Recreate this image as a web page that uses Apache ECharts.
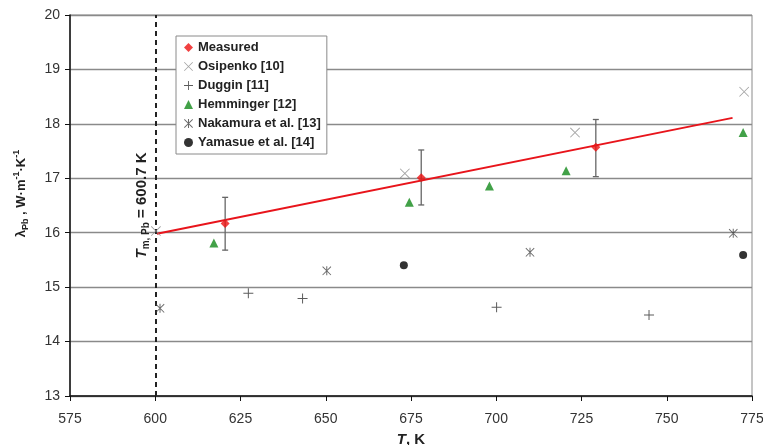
<!DOCTYPE html>
<html>
<head>
<meta charset="utf-8">
<script src="https://cdn.jsdelivr.net/npm/echarts@6/dist/echarts.min.js"></script>
<style>html,body{margin:0;padding:0;background:#fff;}#c{width:763px;height:445px;}</style>
</head>
<body>
<div id="c"></div>
<script>
// ---- data ----
const xTicks = [575, 600, 625, 650, 675, 700, 725, 750, 775];
const yTicks = [13, 14, 15, 16, 17, 18, 19, 20];
const meltT = 600;
const measuredT = [620.5, 678, 729.2];
const measuredL = [16.17, 17.01, 17.57];
const measuredLow = [15.68, 16.51, 17.03];
const measuredHigh = [16.65, 17.52, 18.08];
const fitT = [600.5, 769.3];
const fitL = [15.98, 18.11];
const osipenkoT = [600.2, 673.2, 723.1, 772.7];
const osipenkoL = [16.03, 17.09, 17.84, 18.59];
const dugginT = [627.3, 643.2, 700.1, 744.8];
const dugginL = [14.89, 14.79, 14.63, 14.49];
const hemmingerT = [617.2, 674.5, 698.0, 720.5, 772.4];
const hemmingerL = [15.81, 16.56, 16.86, 17.14, 17.84];
const nakamuraT = [601.4, 650.3, 709.9, 769.5];
const nakamuraL = [14.61, 15.30, 15.64, 15.99];
const yamasueT = [672.9, 772.4];
const yamasueL = [15.40, 15.59];

const zip = (a, b) => a.map((v, i) => [v, b[i]]);

const plusPath = 'path://M-0.6,-6 L0.6,-6 L0.6,-0.6 L6,-0.6 L6,0.6 L0.6,0.6 L0.6,6 L-0.6,6 L-0.6,0.6 L-6,0.6 L-6,-0.6 L-0.6,-0.6 Z';
const crossPath = 'path://M-5,-4.4 L-4.4,-5 L5,4.4 L4.4,5 Z M4.4,-5 L5,-4.4 L-4.4,5 L-5,4.4 Z';
const starPath = 'path://M-5,-4.3 L-4.3,-5 L5,4.3 L4.3,5 Z M4.3,-5 L5,-4.3 L-4.3,5 L-5,4.3 Z M-0.55,-5 L0.55,-5 L0.55,5 L-0.55,5 Z';

const font = 'Liberation Sans, Arial, sans-serif';
const chart = echarts.init(document.getElementById('c'), null, {renderer: 'canvas'});

chart.setOption({
  backgroundColor: '#fff',
  animation: false,
  textStyle: {fontFamily: font},
  grid: {left: 70, right: 11, top: 15, bottom: 49, show: true, borderColor: '#8a8a8a', borderWidth: 1, containLabel: false, outerBoundsMode: 'none'},
  legend: {
    orient: 'vertical', left: 176, top: 36,
    backgroundColor: '#fff', borderColor: '#8a8a8a', borderWidth: 1,
    padding: [4, 6, 4, 8], itemWidth: 9, itemHeight: 9, itemGap: 4,
    textStyle: {fontFamily: font, fontWeight: 'bold', fontSize: 13, color: '#222', lineHeight: 15},
    data: ['Measured', 'Osipenko [10]', 'Duggin [11]', 'Hemminger [12]', 'Nakamura et al. [13]', 'Yamasue et al. [14]']
  },
  xAxis: {
    type: 'value', min: xTicks[0], max: xTicks[xTicks.length - 1], interval: 25,
    name: '{it|T}{n|, K}', nameLocation: 'middle', nameGap: 36,
    nameTextStyle: {rich: {it: {fontFamily: font, fontWeight: 'bold', fontStyle: 'italic', fontSize: 15, color: '#222'}, n: {fontFamily: font, fontWeight: 'bold', fontSize: 15, color: '#222'}}},
    axisLine: {show: true, lineStyle: {color: '#111', width: 1.5}},
    axisTick: {show: true, length: 5, lineStyle: {color: '#111'}},
    axisLabel: {fontSize: 14, color: '#333', margin: 16, fontFamily: font},
    splitLine: {show: false}
  },
  yAxis: {
    type: 'value', min: yTicks[0], max: yTicks[yTicks.length - 1], interval: 1,
    name: '{b|λ}{sub|Pb}{b| , W·m}{sup|-1}{b|·K}{sup|-1}', nameLocation: 'middle', nameGap: 40, nameRotate: 90,
    nameTextStyle: {padding: [0, 0, 0, 24], rich: {
      b: {fontFamily: font, fontWeight: 'bold', fontSize: 13, color: '#222', lineHeight: 18, verticalAlign: 'middle'},
      sub: {fontFamily: font, fontWeight: 'bold', fontSize: 9, color: '#222', lineHeight: 18, verticalAlign: 'bottom'},
      sup: {fontFamily: font, fontWeight: 'bold', fontSize: 9, color: '#222', lineHeight: 18, verticalAlign: 'top'}
    }},
    axisLine: {show: true, lineStyle: {color: '#111', width: 1.5}},
    axisTick: {show: true, length: 5, lineStyle: {color: '#111'}},
    axisLabel: {fontSize: 14, color: '#333', margin: 10, fontFamily: font},
    splitLine: {show: true, lineStyle: {color: '#8a8a8a', width: 1.3}}
  },
  series: [
    {
      name: 'fit', type: 'line', data: zip(fitT, fitL), symbol: 'none',
      lineStyle: {color: '#e8141b', width: 2}, z: 3, silent: true,
      markLine: {
        silent: true, symbol: ['none', 'none'],
        lineStyle: {color: '#222', type: [5, 4], width: 2},
        label: {
          show: true, position: 'insideMiddleTop', distance: 4,
          formatter: '{it|T}{sub|m, Pb}{n| = 600.7 K}',
          rich: {
            it: {fontFamily: font, fontWeight: 'bold', fontStyle: 'italic', fontSize: 15, color: '#222', lineHeight: 18, verticalAlign: 'middle'},
            sub: {fontFamily: font, fontWeight: 'bold', fontSize: 10, color: '#222', lineHeight: 18, verticalAlign: 'bottom'},
            n: {fontFamily: font, fontWeight: 'bold', fontSize: 15, color: '#222', lineHeight: 18, verticalAlign: 'middle'}
          }
        },
        data: [{xAxis: meltT}]
      }
    },
    {
      name: 'errorbars', type: 'custom', z: 4, silent: true,
      data: measuredT.map((t, i) => [t, measuredLow[i], measuredHigh[i]]),
      renderItem: function (params, api) {
        const lo = api.coord([api.value(0), api.value(1)]);
        const hi = api.coord([api.value(0), api.value(2)]);
        const w = 3;
        const st = {stroke: '#666', lineWidth: 1.3};
        return {type: 'group', children: [
          {type: 'line', shape: {x1: lo[0], y1: lo[1], x2: hi[0], y2: hi[1]}, style: st},
          {type: 'line', shape: {x1: lo[0] - w, y1: lo[1], x2: lo[0] + w, y2: lo[1]}, style: st},
          {type: 'line', shape: {x1: hi[0] - w, y1: hi[1], x2: hi[0] + w, y2: hi[1]}, style: st}
        ]};
      }
    },
    {name: 'Measured', type: 'scatter', data: zip(measuredT, measuredL), symbol: 'diamond', symbolSize: 9, itemStyle: {color: '#ee1111'}, z: 6},
    {name: 'Osipenko [10]', type: 'scatter', data: zip(osipenkoT, osipenkoL), symbol: crossPath, symbolSize: 10, itemStyle: {color: '#8a8a8a'}, z: 5},
    {name: 'Duggin [11]', type: 'scatter', data: zip(dugginT, dugginL), symbol: plusPath, symbolSize: 10, itemStyle: {color: '#333'}, z: 5},
    {name: 'Hemminger [12]', type: 'scatter', data: zip(hemmingerT, hemmingerL), symbol: 'triangle', symbolSize: 9, itemStyle: {color: '#13891a'}, z: 5},
    {name: 'Nakamura et al. [13]', type: 'scatter', data: zip(nakamuraT, nakamuraL), symbol: starPath, symbolSize: 9, itemStyle: {color: '#444'}, z: 5},
    {name: 'Yamasue et al. [14]', type: 'scatter', data: zip(yamasueT, yamasueL), symbol: 'circle', symbolSize: 8, itemStyle: {color: '#000'}, z: 5}
  ]
});
</script>
</body>
</html>
